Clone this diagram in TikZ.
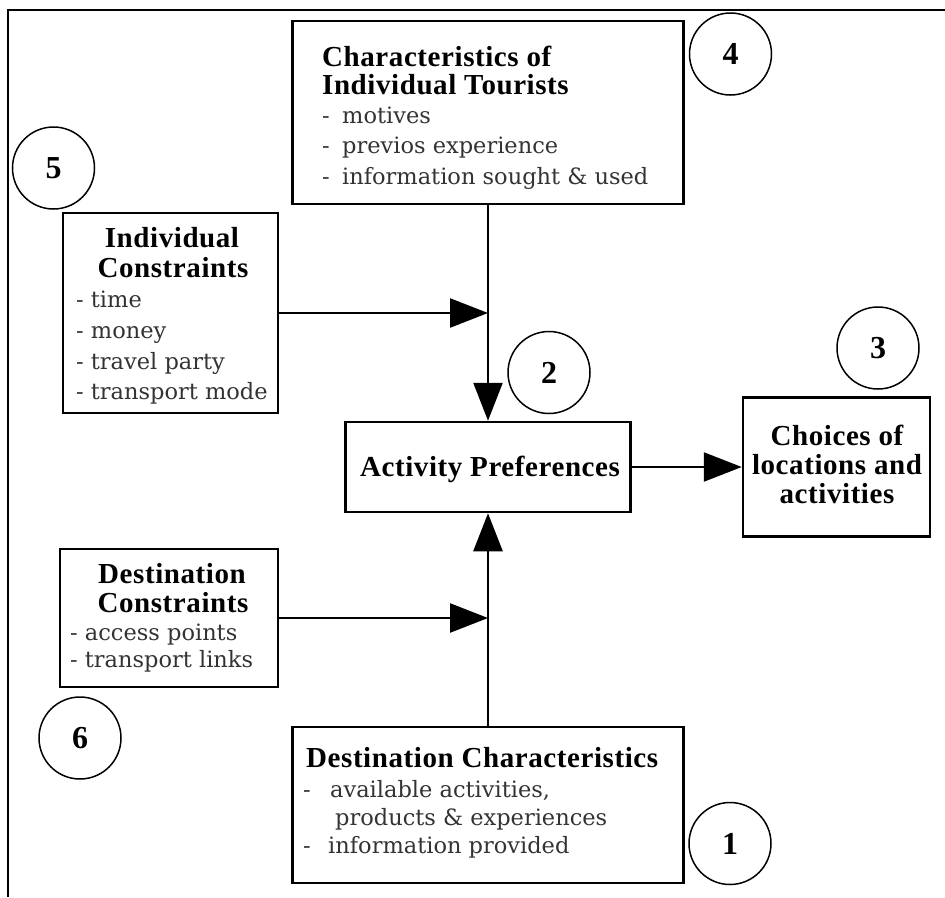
\documentclass[tikz,border=0pt]{standalone}
\usepackage{fontspec}
\setmainfont{Liberation Serif}
\newfontfamily\headfont[LetterSpace=2]{Liberation Serif}
\newfontfamily\listfont{DejaVu Serif}
\usetikzlibrary{arrows.meta}

\begin{document}
\begin{tikzpicture}[x=1pt,y=-1pt,
  box/.style={draw, line width=2.5pt, rectangle, inner sep=0pt},
  marker/.style={draw, circle, line width=1.5pt, minimum size=82pt, inner sep=0pt,
    font=\fontsize{32}{32}\selectfont\bfseries},
  head/.style={inner sep=0pt, font=\headfont\bfseries\fontsize{29}{29}\selectfont},
  item/.style={inner sep=0pt, anchor=base west, text=black!80,
    font=\listfont\fontsize{22.5}{30}\selectfont},
  flow/.style={line width=2.5pt, -{Triangle[length=38pt,width=29pt]}},
]
\useasboundingbox (0,0) rectangle (945,897);

% page frame (top and left rules)
\draw[line width=2pt] (945,10) -- (7.5,10) -- (7.5,897);

% boxes
\node[box, minimum width=391pt, minimum height=183pt] (b4) at (488,112.5) {};
\node[box, minimum width=215pt, minimum height=200pt] (b5) at (170.5,313) {};
\node[box, minimum width=285pt, minimum height=90pt]  (ap) at (488,467) {};
\node[box, minimum width=187pt, minimum height=139pt] (b3) at (836.5,467) {};
\node[box, minimum width=218pt, minimum height=138pt] (b6) at (169,618) {};
\node[box, minimum width=391pt, minimum height=156pt] (b1) at (488,805) {};

% numbered markers
\node[marker] (c4) at (730.5,54) {4};
\node[marker] (c5) at (53.5,168) {5};
\node[marker] (c2) at (549,372.5) {2};
\node[marker] (c3) at (878,348) {3};
\node[marker] (c1) at (730,843.5) {1};
\node[marker] (c6) at (80,738) {6};

% Characteristics of Individual Tourists
\node[head, anchor=base west] (b4h1) at (322,66) {Characteristics of};
\node[head, anchor=base west] (b4h2) at (322,94) {Individual Tourists};
\node[item] (b4i1) at (322,123) {\makebox[20pt][l]{-}motives};
\node[item] (b4i2) at (322,153) {\makebox[20pt][l]{-}previos experience};
\node[item] (b4i3) at (322,184) {\makebox[20pt][l]{-}information sought \& used};

% Individual Constraints
\node[head, anchor=base] (b5h1) at (172,247) {Individual};
\node[head, anchor=base] (b5h2) at (173,277) {Constraints};
\node[item] (b5i1) at (76,307) {- time};
\node[item] (b5i2) at (76,338) {- money};
\node[item] (b5i3) at (76,369) {- travel party};
\node[item] (b5i4) at (76,399) {- transport mode};

% Activity Preferences
\node[head, anchor=base] (aph) at (490,476) {Activity Preferences};

% Choices of locations and activities
\node[head, anchor=base] (b3h1) at (837,445) {Choices of};
\node[head, anchor=base] (b3h2) at (837,474) {locations and};
\node[head, anchor=base] (b3h3) at (837,503) {activities};

% Destination Constraints
\node[head, anchor=base] (b6h1) at (172,583) {Destination};
\node[head, anchor=base] (b6h2) at (173,612) {Constraints};
\node[item] (b6i1) at (70,640) {- access points};
\node[item] (b6i2) at (70,667) {- transport links};

% Destination Characteristics
\node[head, anchor=base west] (b1h) at (306,767) {Destination Characteristics};
\node[item] (b1i1) at (303,797) {\makebox[27pt][l]{-}available activities,};
\node[item] (b1i2) at (335,825) {products \& experiences};
\node[item] (b1i3) at (303,853) {\makebox[25pt][l]{-}information provided};

% flows
\draw[flow] (b4.south) -- (ap.north);
\draw[flow] (b1.north) -- (ap.south);
\draw[flow] (b5.east) -- (b5.east -| ap.north);
\draw[flow] (b6.east) -- (b6.east -| ap.south);
\draw[flow] (ap.east) -- (ap.east -| b3.west);
\end{tikzpicture}
\end{document}
